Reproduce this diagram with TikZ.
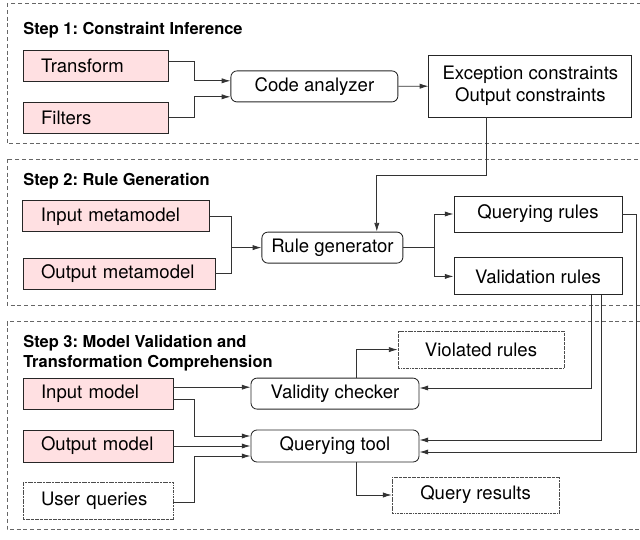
\documentclass[tikz,border=0pt]{standalone}
\usepackage{fontspec}
\setmainfont{TeX Gyre Heros}
\usetikzlibrary{arrows.meta}
\definecolor{srcpink}{RGB}{255,224,226}
\frenchspacing

\begin{document}
\begin{tikzpicture}[line join=miter,
    stage/.style={draw=black!60, line width=0.5pt, dash pattern=on 0.1cm off 0.07cm},
    title/.style={font=\bfseries\fontsize{11.7}{14.2}\selectfont, inner sep=0pt},
    lbox/.style={draw=black!85, line width=0.6pt, inner xsep=0.45cm, inner ysep=0pt,
      align=left, minimum height=0.775cm, font=\fontsize{13.2}{15.6}\selectfont},
    src/.style={lbox, fill=srcpink},
    box/.style={draw=black!85, line width=0.6pt, inner sep=0pt, align=center,
      font=\fontsize{13.2}{15.6}\selectfont},
    tool/.style={box, rounded corners=0.15cm, minimum height=0.775cm},
    ext/.style={draw=black!70, line width=0.45pt,
      dash pattern=on 1.6pt off 0.6pt on 0.4pt off 0.6pt},
    link/.style={draw=black!80, line width=0.6pt},
    flow/.style={link, -{Latex[length=2.2mm, width=1.3mm]}}]
  \useasboundingbox (0,0) rectangle (16,-13.475);
  % stage frames
  \draw[stage] (0.175,-0.075) rectangle (16.4,-3.59);
  \draw[stage] (0.175,-3.975) rectangle (16.4,-7.625);
  \draw[stage] (0.175,-8.04) rectangle (16.4,-13.24);
  % step 1
  \node[title, anchor=base west] (t1) at (0.575,-0.85) {Step 1: Constraint Inference};
  \node[src, text width=2.725cm] (transform) at (2.39,-1.64) {Transform};
  \node[src, text width=2.725cm] (filters) at (2.39,-2.94) {Filters};
  \node[tool, minimum width=4.175cm] (analyzer) at (7.86,-2.16) {Code analyzer};
  \node[box, minimum width=5.075cm, minimum height=1.55cm] (cons) at (13.26,-2.15)
    {Exception constraints\\Output constraints};
  \draw[flow] ([yshift=0.11cm]transform.east) -- ++(0.65,0) |- ([yshift=0.14cm]analyzer.west);
  \draw[flow] (filters.east) -- ++(0.65,0) |- ([yshift=-0.26cm]analyzer.west);
  \draw[flow] (analyzer) -- (cons);
  % step 2
  \node[title, anchor=base west] (t2) at (0.575,-4.625) {Step 2: Rule Generation};
  \node[src, text width=3.775cm] (inmeta) at (2.91,-5.41) {Input metamodel};
  \node[src, text width=3.9cm] (outmeta) at (2.975,-6.84) {Output metamodel};
  \node[tool, minimum width=3.525cm] (rulegen) at (8.31,-6.19) {Rule generator};
  \node[box, minimum width=4.2cm, minimum height=0.9cm] (qrules) at (13.45,-5.35) {Querying rules};
  \node[box, minimum width=4.2cm, minimum height=0.925cm] (vrules) at (13.45,-6.91) {Validation rules};
  \draw[flow] ([xshift=-1.11cm]cons.south) -- ++(0,-1.45) -| ([xshift=1.11cm]rulegen.north);
  \coordinate (mj) at (5.775,-6.19);
  \coordinate (rj) at (10.85,-6.19);
  \draw[link] (inmeta.east) -| (mj);
  \draw[link] (outmeta.east) -| (mj);
  \draw[flow] (mj) -- (rulegen.west);
  \draw[link] (rulegen.east) -- (rj);
  \draw[flow] (rj) |- (qrules.west);
  \draw[flow] (rj) |- (vrules.west);
  % step 3
  \node[title, anchor=north west, align=left] (t3) at (0.575,-8.375)
    {Step 3: Model Validation and\\Transformation Comprehension};
  \node[src, text width=2.85cm] (inmodel) at (2.45,-9.84) {Input model};
  \node[src, text width=2.85cm, minimum height=0.8cm] (outmodel) at (2.45,-11.15) {Output model};
  \node[lbox, ext, text width=2.85cm, minimum height=0.925cm] (userq) at (2.45,-12.51) {User queries};
  \node[tool, minimum width=4.2cm] (checker) at (8.375,-9.84) {Validity checker};
  \node[tool, minimum width=4.2cm, minimum height=0.8cm] (qtool) at (8.375,-11.15) {Querying tool};
  \node[box, ext, minimum width=4.15cm, minimum height=0.925cm] (violated) at (12.025,-8.74) {Violated rules};
  \node[box, ext, minimum width=4.175cm, minimum height=0.9cm] (results) at (11.89,-12.375) {Query results};
  \draw[flow] ([yshift=0.16cm]inmodel.east) -- ([yshift=0.16cm]checker.west);
  \draw[flow] ([yshift=-0.14cm]inmodel.east) -- ++(0.525,0) |- ([yshift=0.25cm]qtool.west);
  \draw[flow] (outmodel) -- (qtool);
  \draw[flow] ([yshift=-0.06cm]userq.east) -- ++(0.525,0) |- ([yshift=-0.25cm]qtool.west);
  \draw[flow] ([xshift=0.525cm]checker.north) |- (violated.west);
  \draw[flow] ([xshift=0.525cm]qtool.south) |- (results.west);
  % rules fed back
  \draw[flow] (qrules.east) -- ++(0.35,0) |- ([yshift=-0.15cm]qtool.east);
  \draw[flow] ([xshift=1.325cm]vrules.south) |- ([yshift=0.14cm]checker.east);
  \draw[flow] ([xshift=1.575cm]vrules.south) |- ([yshift=0.15cm]qtool.east);
\end{tikzpicture}
\end{document}
